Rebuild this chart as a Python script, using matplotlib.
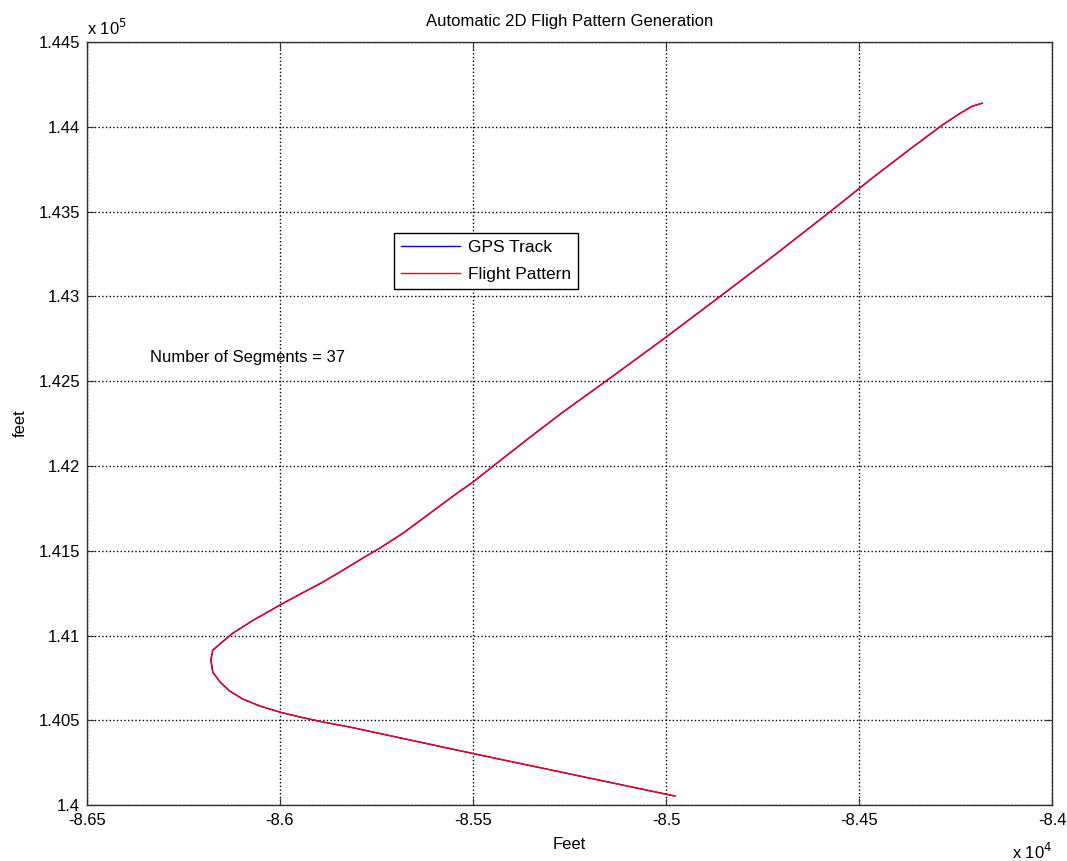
import matplotlib
matplotlib.use("Agg")
import matplotlib.pyplot as plt

plt.rcParams['font.family'] = ['Liberation Sans', 'DejaVu Sans']

# Track coordinates (feet)
x_track = [-84181, -84207, -84238, -84285, -84368, -84466, -84570, -84712, -84852,
           -85000, -85145, -85267, -85352, -85438, -85500, -85541, -85611, -85681,
           -85741, -85785, -85832, -85889, -85948, -86000, -86073, -86122, -86150,
           -86174, -86179, -86174, -86155, -86130, -86096, -86052, -86000, -85948,
           -85889, -85819, -85482, -84977]
y_track = [144140, 144122, 144081, 144010, 143869, 143698, 143509, 143256, 143014,
           142760, 142518, 142318, 142170, 142017, 141905, 141840, 141722, 141604,
           141516, 141457, 141392, 141315, 141244, 141180, 141085, 141014, 140961,
           140914, 140855, 140784, 140725, 140672, 140625, 140584, 140548, 140519,
           140490, 140460, 140295, 140053]

x_ticks = [-86500, -86000, -85500, -85000, -84500, -84000]
x_ticklabels = ['-8.65', '-8.6', '-8.55', '-8.5', '-8.45', '-8.4']
y_ticks = [140000, 140500, 141000, 141500, 142000, 142500, 143000, 143500, 144000, 144500]
y_ticklabels = ['1.4', '1.405', '1.41', '1.415', '1.42', '1.425', '1.43', '1.435', '1.44', '1.445']

fig = plt.figure(figsize=(10.67, 8.61), dpi=100)
ax = fig.add_axes([0.0815, 0.065, 0.9045, 0.886])

ax.plot(x_track, y_track, color='#0000ff', lw=1.0, label='GPS Track')
ax.plot(x_track, y_track, color='#ff0000', lw=1.0, label='Flight Pattern')

ax.set_xlim(-86500, -84000)
ax.set_ylim(140000, 144500)
ax.set_xticks(x_ticks)
ax.set_xticklabels(x_ticklabels)
ax.set_yticks(y_ticks)
ax.set_yticklabels(y_ticklabels)
ax.tick_params(direction='in', length=5, top=True, right=True, labelsize=12,
               color='#333333')
ax.tick_params(axis='x', pad=6)
ax.tick_params(axis='y', pad=5)
ax.grid(True, linestyle=':', color='black', lw=1.0)
for s in ax.spines.values():
    s.set_color('#333333')
    s.set_linewidth(1.0)

ax.set_title('Automatic 2D Fligh Pattern Generation', fontsize=12, pad=12)
ax.set_xlabel('Feet', fontsize=12, labelpad=6)
ax.set_ylabel('feet', fontsize=12, labelpad=8)

ax.text(0.0, 1.005, r'x 10$^5$', transform=ax.transAxes, fontsize=12, ha='left', va='bottom')
ax.text(1.0, -0.048, r'x 10$^4$', transform=ax.transAxes, fontsize=12, ha='right', va='top')

ax.text(-86337, 142642, 'Number of Segments = 37', fontsize=12, ha='left', va='center')

leg = ax.legend(loc='upper left', bbox_to_anchor=(0.318, 0.750), fancybox=False,
                edgecolor='black', framealpha=1, borderaxespad=0, fontsize=12.5,
                handlelength=3.4, handletextpad=0.45, borderpad=0.4, labelspacing=0.7)
leg.get_frame().set_linewidth(1.0)

fig.savefig('out.png', dpi=100)
